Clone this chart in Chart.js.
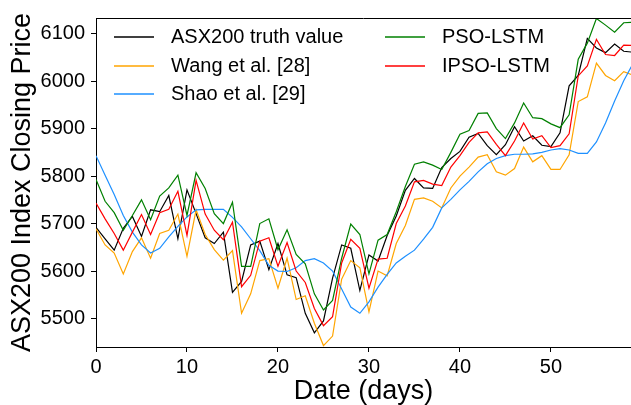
<!DOCTYPE html>
<html>
<head>
<meta charset="utf-8">
<script src="https://cdn.jsdelivr.net/npm/chart.js@4.4.1/dist/chart.umd.min.js"></script>
<style>
  html, body { margin: 0; padding: 0; background: #fff; }
  #chart { display: block; }
</style>
</head>
<body>
<canvas id="chart" width="631" height="405"></canvas>
<script>
// days on the x axis
const days = [0, 1, 2, 3, 4, 5, 6, 7, 8, 9, 10, 11, 12, 13, 14, 15, 16, 17, 18, 19,
  20, 21, 22, 23, 24, 25, 26, 27, 28, 29, 30, 31, 32, 33, 34, 35, 36, 37, 38, 39,
  40, 41, 42, 43, 44, 45, 46, 47, 48, 49, 50, 51, 52, 53, 54, 55, 56, 57, 58, 59];

// closing prices
const truthValue = [5692, 5668, 5644, 5690, 5715, 5673, 5729, 5725, 5759, 5668,
  5771, 5721, 5670, 5658, 5682, 5555, 5578, 5655, 5663, 5603,
  5658, 5592, 5586, 5511, 5470, 5495, 5585, 5655, 5648, 5559,
  5634, 5621, 5675, 5716, 5770, 5795, 5775, 5774, 5818, 5837,
  5852, 5882, 5890, 5864, 5845, 5866, 5904, 5874, 5885, 5865,
  5862, 5891, 5990, 6012, 6090, 6070, 6060, 6078, 6063, 6061];

const wang = [5689, 5655, 5638, 5594, 5641, 5670, 5627, 5679, 5686, 5720,
  5631, 5729, 5677, 5645, 5623, 5643, 5511, 5552, 5622, 5626,
  5564, 5627, 5540, 5548, 5490, 5443, 5463, 5583, 5622, 5607,
  5514, 5600, 5590, 5658, 5696, 5751, 5754, 5747, 5733, 5775,
  5800, 5819, 5840, 5845, 5809, 5802, 5816, 5861, 5830, 5843,
  5814, 5814, 5845, 5957, 5967, 6038, 6012, 6001, 6020, 6013];

const shao = [5843, 5802, 5761, 5717, 5682, 5655, 5638, 5648, 5672, 5694,
  5714, 5729, 5730, 5730, 5730, 5713, 5693, 5668, 5643, 5612,
  5600, 5599, 5607, 5622, 5626, 5617, 5600, 5562, 5524, 5511,
  5535, 5566, 5593, 5617, 5631, 5644, 5667, 5692, 5733, 5751,
  5771, 5789, 5809, 5826, 5837, 5843, 5846, 5846, 5847, 5850,
  5855, 5858, 5855, 5848, 5848, 5872, 5912, 5958, 6001, 6036];

const psoLstm = [5793, 5747, 5723, 5686, 5717, 5750, 5708, 5758, 5775, 5802,
  5717, 5807, 5774, 5721, 5700, 5745, 5610, 5610, 5700, 5710,
  5645, 5687, 5635, 5615, 5552, 5518, 5538, 5627, 5699, 5677,
  5594, 5665, 5677, 5725, 5778, 5825, 5830, 5823, 5814, 5850,
  5888, 5896, 5932, 5933, 5900, 5879, 5912, 5954, 5923, 5921,
  5910, 5902, 5929, 6046, 6080, 6132, 6118, 6103, 6123, 6124];

const ipsoLstm = [5743, 5710, 5679, 5644, 5682, 5719, 5677, 5723, 5730, 5768,
  5675, 5791, 5720, 5686, 5666, 5703, 5567, 5591, 5663, 5670,
  5610, 5660, 5600, 5576, 5521, 5485, 5504, 5617, 5667, 5648,
  5564, 5625, 5627, 5700, 5737, 5788, 5791, 5783, 5780, 5819,
  5843, 5871, 5891, 5893, 5867, 5843, 5874, 5912, 5878, 5885,
  5860, 5864, 5889, 6011, 6032, 6088, 6056, 6054, 6076, 6075];

const seriesNames = ['ASX200 truth value', 'Wang et al. [28]', 'Shao et al. [29]', 'PSO-LSTM', 'IPSO-LSTM'];
const seriesColors = ['#000000', '#FFA500', '#1E90FF', '#008000', '#FF0000'];

const xTicks = [0, 10, 20, 30, 40, 50];
const yTicks = [5500, 5600, 5700, 5800, 5900, 6000, 6100];

const font = "'Liberation Sans', Arial, sans-serif";
Chart.defaults.font.family = font;
Chart.defaults.color = '#000';

function points(values) {
  return values.map((v, i) => ({ x: days[i], y: v }));
}

// legend sits inside the plot in two columns, no frame (like the matplotlib one)
const legendSlots = [
  { x: 114, y: 37 },
  { x: 114, y: 66 },
  { x: 114, y: 94 },
  { x: 385, y: 37 },
  { x: 385, y: 66 }
];

const insideLegend = {
  id: 'insideLegend',
  afterDraw(chart) {
    const ctx = chart.ctx;
    const area = chart.chartArea;
    ctx.save();
    // top spine
    ctx.strokeStyle = '#000';
    ctx.lineWidth = 1;
    ctx.beginPath();
    ctx.moveTo(area.left, area.top + 0.5);
    ctx.lineTo(area.right, area.top + 0.5);
    ctx.stroke();

    ctx.font = '20px ' + font;
    ctx.textBaseline = 'middle';
    ctx.textAlign = 'left';
    seriesNames.forEach((name, i) => {
      const slot = legendSlots[i];
      ctx.strokeStyle = seriesColors[i];
      ctx.lineWidth = 1.6;
      ctx.beginPath();
      ctx.moveTo(slot.x, slot.y);
      ctx.lineTo(slot.x + 40, slot.y);
      ctx.stroke();
      ctx.fillStyle = '#000';
      ctx.fillText(name, slot.x + 57, slot.y);
    });
    ctx.restore();
  }
};

const lineStyle = { borderWidth: 1.2, pointRadius: 0, tension: 0, fill: false };
const allValues = [truthValue, wang, shao, psoLstm, ipsoLstm];

new Chart(document.getElementById('chart'), {
  type: 'line',
  data: {
    datasets: allValues.map((vals, i) => ({
      label: seriesNames[i],
      data: points(vals),
      borderColor: seriesColors[i],
      order: 5 - i,
      ...lineStyle
    }))
  },
  options: {
    responsive: false,
    animation: false,
    devicePixelRatio: 1,
    layout: { padding: { left: 0, right: 0, top: 11, bottom: 0 } },
    plugins: { legend: { display: false }, tooltip: { enabled: false } },
    scales: {
      x: {
        type: 'linear',
        min: 0,
        max: 58.8,
        afterBuildTicks: s => { s.ticks = xTicks.map(v => ({ value: v })); },
        afterFit: s => { s.height = 58; },
        grid: { drawOnChartArea: false, drawTicks: true, tickLength: 5, tickColor: '#000' },
        border: { color: '#000', width: 1 },
        ticks: { font: { size: 20 }, padding: 3, maxRotation: 0, color: '#000', callback: v => String(v) },
        title: { display: true, text: 'Date (days)', font: { size: 27, lineHeight: 1 }, padding: 0, color: '#000' }
      },
      y: {
        min: 5440,
        max: 6133,
        afterBuildTicks: s => { s.ticks = yTicks.map(v => ({ value: v })); },
        afterFit: s => { s.width = 96; },
        grid: { drawOnChartArea: false, drawTicks: true, tickLength: 5, tickColor: '#000' },
        border: { color: '#000', width: 1 },
        ticks: { font: { size: 20 }, padding: 6, color: '#000', callback: v => String(v) },
        title: { display: true, text: 'ASX200 Index Closing Price', font: { size: 27, lineHeight: 1 }, padding: { top: 9, bottom: 0 }, color: '#000' }
      }
    }
  },
  plugins: [insideLegend]
});
</script>
</body>
</html>
